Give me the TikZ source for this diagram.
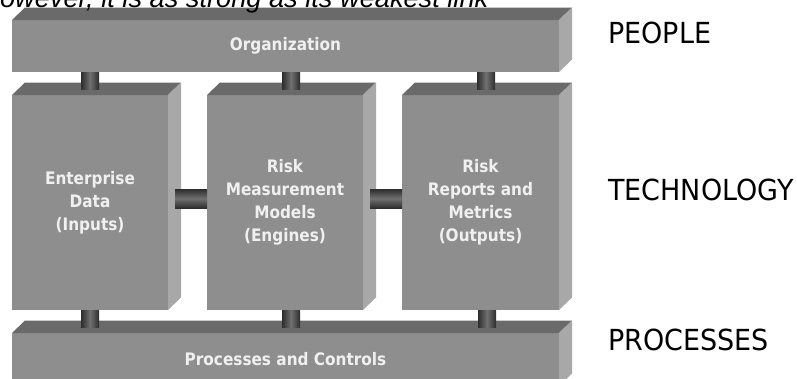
\documentclass[tikz,border=0pt]{standalone}
\usepackage{fontspec}
\setmainfont{Liberation Sans}
\newfontfamily\boxfont[FakeStretch=0.89]{DejaVu Sans}
\newfontfamily\labelfont[FakeStretch=0.93]{DejaVu Sans}
\usetikzlibrary{calc}

\definecolor{frontgray}{RGB}{142,142,142}
\definecolor{topgray}{RGB}{106,106,106}
\definecolor{sidegray}{RGB}{168,168,168}
\definecolor{cyldark}{RGB}{45,45,45}
\definecolor{cyllight}{RGB}{112,112,112}
\definecolor{boxtext}{RGB}{240,240,240}

\tikzset{
  front/.style={fill=frontgray, inner sep=0pt, outer sep=0pt, align=center,
    text=boxtext, font=\boxfont\bfseries\fontsize{17.2}{23}\selectfont},
  topface/.style={fill=topgray},
  sideface/.style={fill=sidegray},
  vcyl/.style={left color=cyldark, right color=cyldark, middle color=cyllight},
  hcyl/.style={top color=cyldark, bottom color=cyldark, middle color=cyllight},
  pillar/.style={font=\labelfont\fontsize{29}{30}\selectfont, anchor=base west, inner sep=0pt},
}

% top and right faces of a block whose front face is the node #1
\newcommand\blocksides[1]{%
  \fill[topface] (#1.north west) -- ++(13,-12.5) -- ($(#1.north east)+(13,-12.5)$) -- (#1.north east) -- cycle;
  \fill[sideface] (#1.north east) -- ++(13,-12.5) -- ($(#1.south east)+(13,-12.5)$) -- (#1.south east) -- cycle;
}

\begin{document}
\begin{tikzpicture}[x=1pt, y=-1pt]
  \useasboundingbox (0,0) rectangle (797,378);
  \fill[white] (0,0) rectangle (797,378);

  % blocks
  \node[front, minimum width=547pt, minimum height=52pt] (org) at (285.5,46) {Organization};
  \blocksides{org}
  \node[front, minimum width=156pt, minimum height=215pt] (box1) at (90,202.5) {Enterprise\\Data\\(Inputs)};
  \blocksides{box1}
  \node[front, minimum width=156pt, minimum height=215pt] (box2) at (285,202.5) {Risk\\Measurement\\Models\\(Engines)};
  \blocksides{box2}
  \node[front, minimum width=157pt, minimum height=215pt] (box3) at (480.5,202.5) {Risk\\Reports and\\Metrics\\(Outputs)};
  \blocksides{box3}
  \node[front, minimum width=547pt, minimum height=53pt] (proc) at (285.5,359.5) {Processes and Controls};
  \blocksides{proc}

  % links between organization and the three blocks
  \shade[vcyl] ($(box1.north |- org.south)+(-9,0)$) rectangle ($(box1.north)+(9,-6)$);
  \shade[vcyl] ($(box2.north |- org.south)+(-3,0)$) rectangle ($(box2.north)+(15,-6)$);
  \shade[vcyl] ($(box3.north |- org.south)+(-3.5,0)$) rectangle ($(box3.north)+(14.5,-6)$);

  % links between the three blocks and processes
  \shade[vcyl] ($(box1.south)+(-9,0)$) rectangle ($(box1.south |- proc.north)+(9,-6)$);
  \shade[vcyl] ($(box2.south)+(-3,0)$) rectangle ($(box2.south |- proc.north)+(15,-6)$);
  \shade[vcyl] ($(box3.south)+(-2.5,0)$) rectangle ($(box3.south |- proc.north)+(15.5,-6)$);

  % links between neighbouring blocks
  \shade[hcyl] ($(box1.east)+(7,-13.5)$) rectangle ($(box2.west)+(0,5.5)$);
  \shade[hcyl] ($(box2.east)+(7,-13.5)$) rectangle ($(box3.west)+(0,5.5)$);

  % pillar labels
  \node[pillar] (people) at (608,43) {PEOPLE};
  \node[pillar] (tech) at (608,200) {TECHNOLOGY};
  \node[pillar] (processes) at (608,350) {PROCESSES};

  % heading line running off the top edge
  \node[anchor=base west, inner sep=0pt, font=\itshape\fontsize{27.2}{30}\selectfont] (quote) at (-19.8,7.5) {However, it is as strong as its weakest link};
\end{tikzpicture}
\end{document}
